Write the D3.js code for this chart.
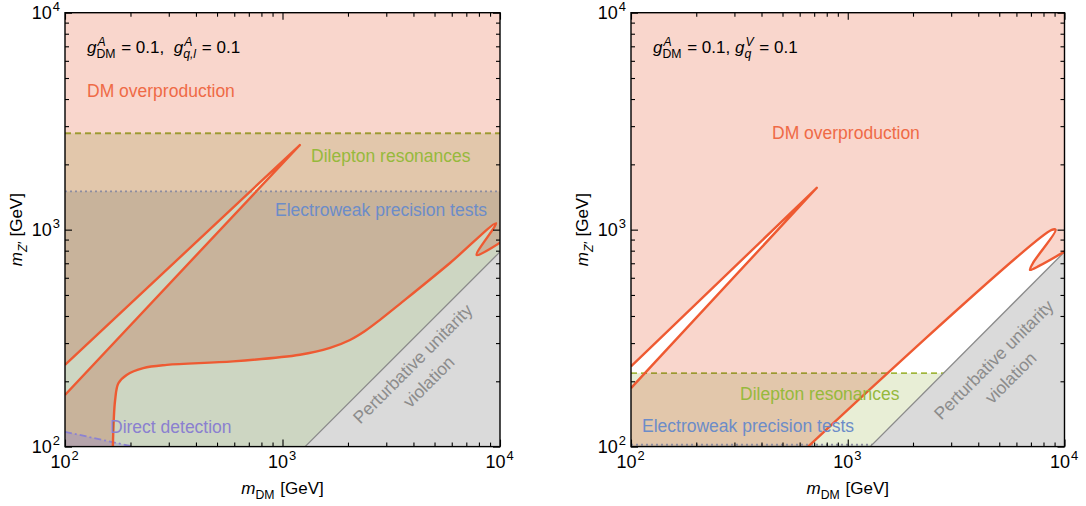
<!DOCTYPE html>
<html>
<head>
<meta charset="utf-8">
<script src="https://cdn.jsdelivr.net/npm/d3@7"></script>
<style>
  body { margin: 0; background: #fff; }
  svg { font-family: "Liberation Sans", Arial, sans-serif; }
  svg text { white-space: pre; }
</style>
</head>
<body>
<svg id="chart" width="1086" height="506"></svg>
<script>
// axes: both panels run 10^2 .. 10^4 GeV on log scales
const domain = [100, 10000];
const majorTicks = [100, 1000, 10000];
const tickExponents = ["2", "3", "4"];

// left panel (axial couplings to quarks and leptons)
const leftResonanceLoop = [[100, 238], [1202, 2455], [100, 173]];
const leftMainCurve = [
  [166, 100], [170, 164], [176, 196], [192, 214], [229, 230], [294, 238],
  [592, 247], [1202, 265], [1654, 285], [2043, 310], [2395, 341], [2808, 384],
  [3469, 455], [5891, 702], [9590, 1070], [7810, 764], [10000, 871]
];
const leftDilepton = 2780;
const leftElectroweak = 1500;
const leftDirectDetection = [[100, 117], [206, 100]];

// right panel (vector couplings to quarks)
const rightResonanceLoop = [[100, 234], [720, 1560], [100, 186]];
const rightMainCurve = [
  [656, 100], [8730, 997], [9100, 997], [7155, 702], [6930, 652], [7710, 684], [10000, 792]
];
const rightDilepton = 218;
const rightElectroweak = 102;

// perturbative unitarity boundary (same in both panels)
const unitarityLine = [[1270, 100], [10000, 790]];

const colors = {
  pink: "#F9D6CC", dilepton: "#E8EED6", electroweak: "#E2E6E8",
  direct: "rgba(140,130,210,0.3)", gray: "#DADADA", grayLine: "#8a8a8a",
  red: "#EE5A32", dilLine: "#AABF46", ewLine: "#8C8CA0", ddLine: "#8C82D2",
  txtRed: "#EF6A46", txtGreen: "#96B93C", txtBlue: "#6C8CC8",
  txtPurple: "#8A80D0", txtGray: "#8C8C8C"
};

const svg = d3.select("#chart");
const yTop = 12.7, yBottom = 446.6;

// text with italic pieces and stacked super/subscripts
function richText(parent, x, y, parts, size, opts = {}) {
  const g = parent.append("g");
  let cx = 0;
  const small = size * 0.72;
  parts.forEach(p => {
    if (p.t !== undefined) {
      const t = g.append("text").attr("x", cx).attr("y", 0)
        .style("font-size", size + "px").text(p.t);
      if (p.i) t.style("font-style", "italic");
      cx += t.node().getComputedTextLength();
    } else {
      let w = 0;
      if (p.sup) {
        const t = g.append("text").attr("x", cx + 1).attr("y", -size * 0.42)
          .style("font-size", small + "px").text(p.sup);
        if (p.supI) t.style("font-style", "italic");
        w = Math.max(w, t.node().getComputedTextLength() + 1);
      }
      if (p.sub) {
        const t = g.append("text").attr("x", cx).attr("y", size * 0.27)
          .style("font-size", small + "px").text(p.sub);
        if (p.subI) t.style("font-style", "italic");
        w = Math.max(w, t.node().getComputedTextLength());
      }
      cx += w + 1;
    }
  });
  let dx = 0;
  if (opts.anchor === "middle") dx = -cx / 2;
  if (opts.anchor === "end") dx = -cx;
  const rot = opts.rotate ? ` rotate(${opts.rotate})` : "";
  g.attr("transform", `translate(${x},${y})${rot} translate(${dx},0)`);
  if (opts.fill) g.selectAll("text").attr("fill", opts.fill);
  return g;
}

function drawPanel(cfg, idx) {
  const x = d3.scaleLog().domain(domain).range([cfg.x0, cfg.x1]);
  const y = d3.scaleLog().domain(domain).range([yBottom, yTop]);
  const pt = d => [x(d[0]), y(d[1])];
  const straight = d3.line().x(d => x(d[0])).y(d => y(d[1]));
  const smooth = d3.line().x(d => x(d[0])).y(d => y(d[1])).curve(d3.curveCatmullRom.alpha(0.5));

  const clipId = "clip" + idx;
  svg.append("clipPath").attr("id", clipId).append("rect")
    .attr("x", cfg.x0).attr("y", yTop).attr("width", cfg.x1 - cfg.x0).attr("height", yBottom - yTop);
  const g = svg.append("g").attr("clip-path", `url(#${clipId})`);

  // DM overproduction everywhere, then cut out the allowed regions
  g.append("rect").attr("x", cfg.x0).attr("y", yTop)
    .attr("width", cfg.x1 - cfg.x0).attr("height", yBottom - yTop).attr("fill", colors.pink);
  g.append("path").attr("d", straight(cfg.loop) + "Z").attr("fill", "#fff");
  const last = cfg.main[cfg.main.length - 1];
  const [ex, ey] = pt([last[0] * 1.2, 80]);
  g.append("path")
    .attr("d", smooth(cfg.main) + `L${x(last[0] * 1.2)},${y(last[1])}L${ex},${ey}L${x(cfg.main[0][0])},${ey}Z`)
    .attr("fill", "#fff");

  // dilepton and electroweak constraints
  const band = (top, fill) => g.append("rect")
    .attr("x", cfg.x0).attr("width", cfg.x1 - cfg.x0)
    .attr("y", y(top)).attr("height", yBottom - y(top) + 2)
    .attr("fill", fill).style("mix-blend-mode", "multiply");
  band(cfg.dilepton, colors.dilepton);
  band(cfg.electroweak, colors.electroweak);

  if (cfg.direct) {
    g.append("path")
      .attr("d", straight([[100, 90], ...cfg.direct, [cfg.direct[1][0], 90]]) + "Z")
      .attr("fill", colors.direct);
  }

  g.append("path").attr("d", straight([[100, cfg.dilepton], [10000, cfg.dilepton]]))
    .attr("fill", "none").attr("stroke", colors.dilLine).attr("stroke-width", 1.9)
    .attr("stroke-dasharray", "6,4").style("mix-blend-mode", "multiply");
  g.append("path").attr("d", straight([[100, cfg.electroweak], [10000, cfg.electroweak]]))
    .attr("fill", "none").attr("stroke", colors.ewLine).attr("stroke-width", 1.8)
    .attr("stroke-dasharray", "2,3");
  if (cfg.direct) {
    g.append("path").attr("d", straight(cfg.direct))
      .attr("fill", "none").attr("stroke", colors.ddLine).attr("stroke-width", 1.8)
      .attr("stroke-dasharray", "7,3,2,3");
  }

  // perturbative unitarity violation
  const [u0, u1] = unitarityLine;
  g.append("path")
    .attr("d", straight([u0, u1, [12000, u1[1]], [12000, 90], [u0[0], 90]]) + "Z")
    .attr("fill", colors.gray);
  g.append("path").attr("d", straight(unitarityLine))
    .attr("fill", "none").attr("stroke", colors.grayLine).attr("stroke-width", 1.3);

  // relic density contours
  g.append("path").attr("d", straight(cfg.loop))
    .attr("fill", "none").attr("stroke", colors.red).attr("stroke-width", 2.4).attr("stroke-linejoin", "round");
  g.append("path").attr("d", smooth(cfg.main))
    .attr("fill", "none").attr("stroke", colors.red).attr("stroke-width", 2.4).attr("stroke-linejoin", "round");

  // ticks on all four sides, pointing inward
  const minor = [];
  [100, 1000].forEach(b => { for (let k = 2; k < 10; k++) minor.push(b * k); });
  const ax = svg.append("g");
  [[minor, 4], [majorTicks, 7]].forEach(([vals, len]) => {
    ax.append("g").attr("transform", `translate(0,${yBottom})`)
      .call(d3.axisBottom(x).tickValues(vals).tickSize(-len).tickFormat(""));
    ax.append("g").attr("transform", `translate(0,${yTop})`)
      .call(d3.axisTop(x).tickValues(vals).tickSize(-len).tickFormat(""));
    ax.append("g").attr("transform", `translate(${cfg.x0},0)`)
      .call(d3.axisLeft(y).tickValues(vals).tickSize(-len).tickFormat(""));
    ax.append("g").attr("transform", `translate(${cfg.x1},0)`)
      .call(d3.axisRight(y).tickValues(vals).tickSize(-len).tickFormat(""));
  });
  ax.selectAll(".domain").remove();
  ax.selectAll(".tick line").attr("stroke", "#000").attr("stroke-width", 1.1);
  svg.append("rect").attr("x", cfg.x0).attr("y", yTop)
    .attr("width", cfg.x1 - cfg.x0).attr("height", yBottom - yTop)
    .attr("fill", "none").attr("stroke", "#000").attr("stroke-width", 1.4);

  // tick labels
  majorTicks.forEach((v, i) => {
    const parts = [{ t: "10" }, { sup: tickExponents[i] }];
    richText(svg, x(v), 468, parts, 18, { anchor: "middle" });
    richText(svg, cfg.x0 - 4, y(v) + 6, parts, 18, { anchor: "end" });
  });

  // axis titles
  richText(svg, (cfg.x0 + cfg.x1) / 2, 494,
    [{ t: "m", i: true }, { sub: "DM" }, { t: " [GeV]" }], 17, { anchor: "middle" });
  richText(svg, cfg.x0 - 43, (yTop + yBottom) / 2,
    [{ t: "m", i: true }, { sub: "Z′", subI: true }, { t: " [GeV]" }], 17, { anchor: "middle", rotate: -90 });

  // annotations
  richText(svg, cfg.x0 + 22, 53, cfg.couplings, 17);
  cfg.labels.forEach(l => {
    const t = svg.append("text").attr("x", l.x).attr("y", l.y)
      .attr("fill", l.c).style("font-size", "17.5px").text(l.text);
    if (l.rot) t.attr("text-anchor", "middle").attr("transform", `rotate(${l.rot},${l.x},${l.y})`);
  });
}

const panels = [
  {
    x0: 65, x1: 500,
    loop: leftResonanceLoop, main: leftMainCurve,
    dilepton: leftDilepton, electroweak: leftElectroweak, direct: leftDirectDetection,
    couplings: [
      { t: "g", i: true }, { sup: "A", supI: true, sub: "DM" }, { t: " = 0.1,  " },
      { t: "g", i: true }, { sup: "A", supI: true, sub: "q,l", subI: true }, { t: " = 0.1" }
    ],
    labels: [
      { text: "DM overproduction", x: 87, y: 97, c: colors.txtRed },
      { text: "Dilepton resonances", x: 311, y: 162, c: colors.txtGreen },
      { text: "Electroweak precision tests", x: 275, y: 216, c: colors.txtBlue },
      { text: "Direct detection", x: 110, y: 433, c: colors.txtPurple },
      { text: "Perturbative unitarity", x: 417, y: 368, c: colors.txtGray, rot: -45 },
      { text: "violation", x: 433, y: 386, c: colors.txtGray, rot: -45 }
    ]
  },
  {
    x0: 631, x1: 1064.5,
    loop: rightResonanceLoop, main: rightMainCurve,
    dilepton: rightDilepton, electroweak: rightElectroweak, direct: null,
    couplings: [
      { t: "g", i: true }, { sup: "A", supI: true, sub: "DM" }, { t: " = 0.1, " },
      { t: "g", i: true }, { sup: "V", supI: true, sub: "q", subI: true }, { t: " = 0.1" }
    ],
    labels: [
      { text: "DM overproduction", x: 772, y: 139, c: colors.txtRed },
      { text: "Dilepton resonances", x: 740, y: 400, c: colors.txtGreen },
      { text: "Electroweak precision tests", x: 642, y: 432, c: colors.txtBlue },
      { text: "Perturbative unitarity", x: 998, y: 364, c: colors.txtGray, rot: -45 },
      { text: "violation", x: 1015, y: 382, c: colors.txtGray, rot: -45 }
    ]
  }
];

panels.forEach(drawPanel);
</script>
</body>
</html>
